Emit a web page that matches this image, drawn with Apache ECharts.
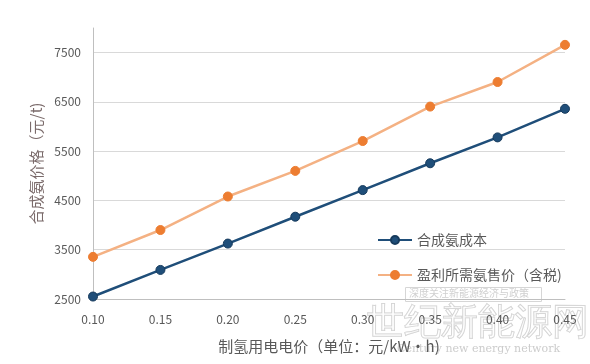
<!DOCTYPE html>
<html>
<head>
<meta charset="utf-8">
<script src="https://cdn.jsdelivr.net/npm/echarts@6/dist/echarts.min.js"></script>
<style>html,body{margin:0;padding:0;background:#fff;}#c{width:590px;height:364px;}</style>
</head>
<body>
<div id="c"></div>
<script>
const categories = ['0.10','0.15','0.20','0.25','0.30','0.35','0.40','0.45'];
const costValues = [2550, 3090, 3625, 4170, 4710, 5255, 5780, 6360];
const priceValues = [3355, 3900, 4580, 5100, 5706, 6405, 6904, 7658];
const seriesNames = ['合成氨成本', '盈利所需氨售价（含税)'];
const xAxisName = '制氢用电电价（单位：元/kW·h)';
const yAxisName = '合成氨价格（元/t)';

const chart = echarts.init(document.getElementById('c'), null, {renderer: 'canvas'});
const font = '"Noto Sans CJK SC", "Noto Sans", sans-serif';
chart.setOption({
  animation: false,
  backgroundColor: '#fff',
  grid: {left: 93, right: 25, top: 28, bottom: 65, containLabel: false},
  legend: {
    orient: 'vertical', left: 372, top: 228, itemWidth: 34, itemHeight: 10, itemGap: 21,
    textStyle: {color: '#595959', fontSize: 14, fontFamily: font},
    data: seriesNames
  },
  xAxis: {
    type: 'category', data: categories, boundaryGap: false,
    name: xAxisName, nameLocation: 'middle', nameGap: 40,
    nameTextStyle: {color: '#595959', fontSize: 15, fontFamily: font},
    axisLine: {lineStyle: {color: '#bfbfbf'}},
    axisTick: {show: false},
    axisLabel: {color: '#595959', fontSize: 12, margin: 14, fontFamily: font}
  },
  yAxis: {
    type: 'value', min: 2500, max: 8000, interval: 1000,
    name: yAxisName, nameLocation: 'middle', nameGap: 48, nameRotate: 90,
    nameTextStyle: {color: '#7a6a6a', fontSize: 15, fontFamily: font},
    axisLine: {show: true, lineStyle: {color: '#bfbfbf'}},
    axisTick: {show: false},
    axisLabel: {color: '#595959', fontSize: 12, margin: 12, fontFamily: font,
      formatter: v => (v === 8000 ? '' : String(v))},
    splitLine: {lineStyle: {color: ['#d9d9d9','#d9d9d9','#d9d9d9','#d9d9d9','#d9d9d9','#d9d9d9','rgba(0,0,0,0)']}}
  },
  series: [
    {
      name: seriesNames[0], type: 'line', data: costValues,
      symbol: 'circle', symbolSize: 9,
      lineStyle: {color: '#1f4e79', width: 2.5},
      itemStyle: {color: '#1f4e79', borderColor: '#163a5c', borderWidth: 1}
    },
    {
      name: seriesNames[1], type: 'line', data: priceValues,
      symbol: 'circle', symbolSize: 9,
      lineStyle: {color: '#f4b183', width: 2.5},
      itemStyle: {color: '#ed7d31', borderColor: '#ed7d31', borderWidth: 1}
    }
  ],
  graphic: [
    {type: 'rect', left: 405, top: 287, shape: {width: 136, height: 14}, silent: true,
      style: {fill: 'rgba(255,255,255,0.5)', stroke: '#d6d6d6', lineWidth: 1}},
    {type: 'text', left: 409, top: 288, silent: true,
      style: {text: '深度关注新能源经济与政策', fontSize: 10, fill: '#d0d0d0', fontFamily: font}},
    {type: 'text', left: 366, top: 305, silent: true,
      style: {text: '世纪新能源网', fontSize: 37, fill: 'rgba(255,255,255,0.3)', stroke: '#cfcfcf', lineWidth: 1, fontFamily: '"DejaVu Serif", serif'}},
    {type: 'text', left: 397, top: 344, silent: true,
      style: {text: 'Century new energy network', fontSize: 11, fill: '#cccccc', fontFamily: '"DejaVu Serif", serif'}}
  ]
});
</script>
</body>
</html>
